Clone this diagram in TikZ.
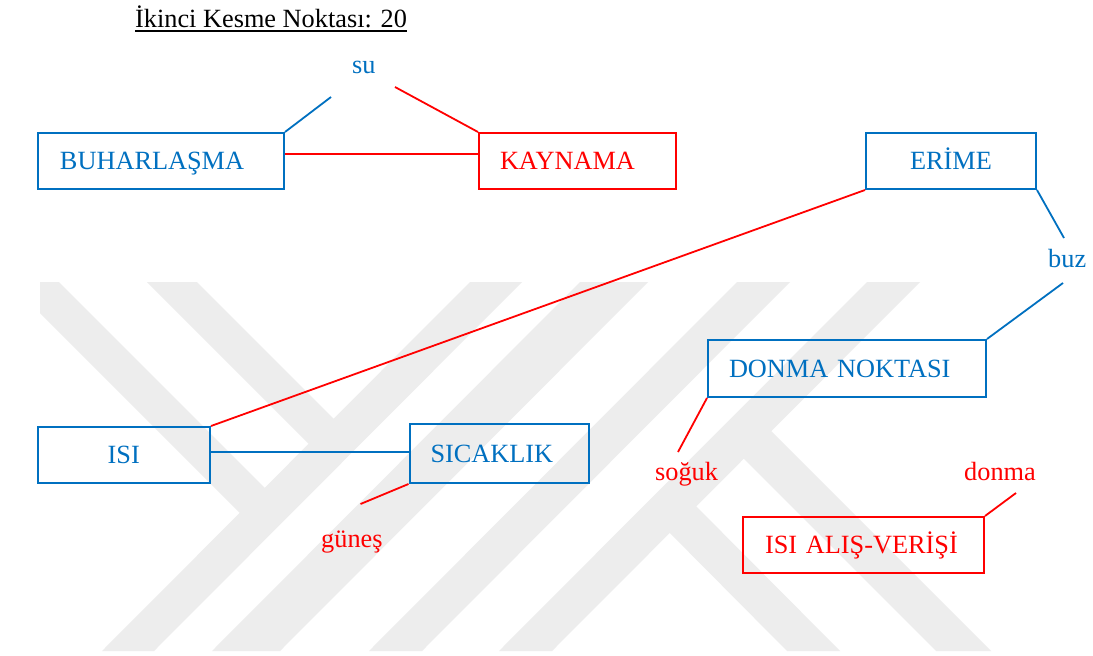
\documentclass[tikz,border=0pt]{standalone}
\usepackage{fontspec}
\setmainfont{Liberation Serif}
\definecolor{mapblue}{HTML}{0070C0}
\definecolor{mapred}{HTML}{FF0000}
\definecolor{wmgray}{HTML}{EDEDED}
\tikzset{
  box/.style={draw, line width=2pt, inner xsep=0pt, inner ysep=0pt,
    minimum height=56pt, text height=17.4pt, text depth=0pt, align=left},
  bluebox/.style={box, draw=mapblue, text=mapblue},
  redbox/.style={box, draw=mapred, text=mapred},
  word/.style={anchor=base west, inner sep=0pt},
  blueline/.style={draw=mapblue, line width=1.8pt},
  redline/.style={draw=mapred, line width=1.8pt},
  wm/.style={fill=wmgray, draw=none}
}
\begin{document}
\begin{tikzpicture}[x=1pt, y=-1pt, font=\fontsize{26.3}{30}\selectfont]
\useasboundingbox (0,0) rectangle (1093,656);
\fill[white] (0,0) rectangle (1093,656);

% faint striped emblem in the background
\fill[wm] (470,282) -- (522,282) -- (154,651) -- (102,651) -- cycle;
\fill[wm] (580,282) -- (648,282) -- (280,651) -- (212,651) -- cycle;
\fill[wm] (737,282) -- (790,282) -- (422,651) -- (369,651) -- cycle;
\fill[wm] (867,282) -- (920,282) -- (552,651) -- (499,651) -- cycle;
\fill[wm] (147,282) -- (197,282) -- (340,425) -- (315,450) -- cycle;
\fill[wm] (40,282) -- (59,282) -- (269.5,492.5) -- (244.5,517.5) -- (40,313) -- cycle;
\fill[wm] (656,519) -- (682.5,492.5) -- (840,651) -- (787,651) -- cycle;
\fill[wm] (730,445) -- (757.5,417.5) -- (991,651) -- (936,651) -- cycle;

% heading
\node[word, text depth=0pt] (title) at (135,27) {İkinci Kesme Noktası: 20};
\draw[line width=1.6pt] ([yshift=-3.5pt]title.south west) -- ([yshift=-3.5pt]title.south east);

% concept boxes
\node[bluebox, text width=246.5pt] (buh) at (160.75,161) {\hspace*{22.5pt}BUHARLAŞMA};
\node[redbox, text width=197pt] (kay) at (577.5,161) {\hspace*{21pt}KAYNAMA};
\node[bluebox, text width=170pt] (eri) at (951,161) {\hspace*{44pt}ERİME};
\node[bluebox, text width=278pt, minimum height=57pt] (don) at (847,368.5) {\hspace*{21pt}DONMA NOKTASI};
\node[bluebox, text width=172.5pt, align=center] (isi) at (123.75,455) {ISI};
\node[bluebox, text width=179.5pt, minimum height=59pt] (sic) at (499.25,453.5) {\hspace*{21pt}SICAKLIK};
\node[redbox, text width=241pt] (ali) at (863.5,545) {\hspace*{22pt}ISI ALIŞ-VERİŞİ};

% linking words
\node[word, text=mapblue] (su) at (352,73) {su};
\node[word, text=mapblue] (buz) at (1048,267) {buz};
\node[word, text=mapred] (soguk) at (655,480) {soğuk};
\node[word, text=mapred] (donma) at (964,480) {donma};
\node[word, text=mapred] (gunes) at (321,547) {güneş};

% free ends of the links next to the linking words
\coordinate (suL) at (331,97);
\coordinate (suR) at (395,87);
\coordinate (buzT) at (1064,238);
\coordinate (buzB) at (1063,283);
\coordinate (sogT) at (678,452);
\coordinate (gunT) at (360.5,504);
\coordinate (donB) at (1016,493);

% links
\draw[blueline] (suL) -- (buh.north east);
\draw[redline] (suR) -- (kay.north west);
\draw[redline] ([yshift=7pt]buh.east) -- ([yshift=7pt]kay.west);
\draw[redline] (eri.south west) -- (isi.north east);
\draw[blueline] (eri.south east) -- (buzT);
\draw[blueline] (buzB) -- (don.north east);
\draw[redline] (don.south west) -- (sogT);
\draw[blueline] ([yshift=3pt]isi.east) -- ([yshift=3pt]isi.east -| sic.west);
\draw[redline] (sic.south west) -- (gunT);
\draw[redline] (ali.north east) -- (donB);
\end{tikzpicture}
\end{document}
